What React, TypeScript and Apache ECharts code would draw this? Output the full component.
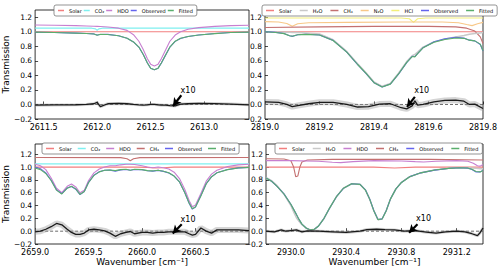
import React, { useEffect, useRef } from 'react';
import * as echarts from 'echarts';

// ---------- Panel 1 (HDO 2612.5) ----------
const p1Ticks = [2611.5, 2612.0, 2612.5, 2613.0];
const p1X = [2611.42, 2611.6, 2611.8, 2611.9, 2611.97, 2612.0, 2612.03, 2612.1, 2612.2, 2612.28, 2612.34, 2612.39, 2612.43, 2612.47, 2612.5, 2612.535, 2612.57, 2612.6, 2612.64, 2612.68, 2612.73, 2612.78, 2612.85, 2612.95, 2613.1, 2613.25, 2613.42];
const p1Fitted = [0.995, 0.99, 0.982, 0.976, 0.97, 0.952, 0.966, 0.963, 0.945, 0.91, 0.86, 0.79, 0.69, 0.57, 0.5, 0.478, 0.5, 0.57, 0.68, 0.79, 0.87, 0.91, 0.935, 0.955, 0.975, 0.99, 0.995];
const p1Observed = [0.994, 0.99, 0.982, 0.976, 0.971, 0.955, 0.963, 0.964, 0.946, 0.91, 0.86, 0.79, 0.69, 0.57, 0.5, 0.478, 0.5, 0.569, 0.679, 0.788, 0.868, 0.909, 0.935, 0.956, 0.976, 0.991, 0.994];
const p1HDO = [1.093, 1.09, 1.085, 1.08, 1.076, 1.074, 1.072, 1.066, 1.05, 1.02, 0.96, 0.87, 0.76, 0.63, 0.555, 0.53, 0.555, 0.63, 0.75, 0.87, 0.955, 1.0, 1.035, 1.058, 1.075, 1.085, 1.09];
const p1Residual = [-0.01, -0.006, -0.004, 0.0, 0.01, 0.03, -0.03, 0.01, 0.015, 0.01, 0.0, -0.005, -0.008, -0.005, 0.0, 0.0, -0.005, -0.01, -0.01, -0.015, -0.02, 0.005, 0.01, 0.015, 0.012, 0.005, -0.005];
const p1CO2X = [2611.42, 2611.95, 2611.985, 2612.0, 2612.015, 2612.05, 2613.42];
const p1CO2 = [1.05, 1.05, 1.04, 1.02, 1.04, 1.05, 1.05];
const p1SolarX = [2611.42, 2613.42];
const p1Solar = [1.0, 1.0];

// ---------- Panel 2 (2819) ----------
const p2Ticks = [2819.0, 2819.2, 2819.4, 2819.6, 2819.8];
const p2X = [2819.0, 2819.04, 2819.07, 2819.09, 2819.1, 2819.12, 2819.15, 2819.2, 2819.25, 2819.3, 2819.34, 2819.37, 2819.4, 2819.43, 2819.46, 2819.49, 2819.52, 2819.54, 2819.55, 2819.56, 2819.58, 2819.62, 2819.66, 2819.7, 2819.73, 2819.75, 2819.77, 2819.79, 2819.8];
const p2Fitted = [1.0, 0.99, 0.975, 0.945, 0.94, 0.96, 0.965, 0.955, 0.88, 0.72, 0.55, 0.43, 0.3, 0.24, 0.28, 0.42, 0.58, 0.66, 0.655, 0.7, 0.78, 0.855, 0.895, 0.915, 0.91, 0.885, 0.875, 0.83, 0.74];
const p2Observed = [1.003, 0.992, 0.977, 0.945, 0.937, 0.959, 0.967, 0.957, 0.882, 0.72, 0.548, 0.428, 0.3, 0.24, 0.281, 0.418, 0.575, 0.662, 0.66, 0.7, 0.782, 0.862, 0.905, 0.925, 0.915, 0.885, 0.875, 0.826, 0.735];
const p2H2O = [1.0, 0.998, 0.995, 0.993, 0.992, 0.99, 0.985, 0.97, 0.89, 0.73, 0.56, 0.44, 0.31, 0.25, 0.29, 0.43, 0.59, 0.67, 0.69, 0.72, 0.79, 0.86, 0.9, 0.93, 0.95, 0.965, 0.975, 0.985, 0.99];
const p2CH4X = [2819.0, 2819.2, 2819.4, 2819.6, 2819.7, 2819.74, 2819.77, 2819.79, 2819.8];
const p2CH4 = [1.06, 1.068, 1.075, 1.075, 1.068, 1.05, 1.01, 0.93, 0.84];
const p2N2OX = [2819.0, 2819.05, 2819.08, 2819.1, 2819.12, 2819.16, 2819.3, 2819.5, 2819.65, 2819.71, 2819.74, 2819.76, 2819.78, 2819.8];
const p2N2O = [1.14, 1.135, 1.115, 1.075, 1.11, 1.125, 1.13, 1.135, 1.135, 1.125, 1.1, 1.085, 1.11, 1.13];
const p2HClX = [2819.0, 2819.5, 2819.53, 2819.545, 2819.56, 2819.59, 2819.8];
const p2HCl = [1.19, 1.19, 1.18, 1.13, 1.18, 1.19, 1.19];
const p2SolarX = [2819.0, 2819.8];
const p2Solar = [1.0, 1.0];
const p2ResX = [2819.0, 2819.05, 2819.08, 2819.1, 2819.12, 2819.16, 2819.2, 2819.25, 2819.3, 2819.34, 2819.38, 2819.42, 2819.46, 2819.5, 2819.52, 2819.54, 2819.55, 2819.56, 2819.58, 2819.62, 2819.66, 2819.7, 2819.73, 2819.75, 2819.77, 2819.8];
const p2Residual = [0.035, 0.03, 0.0, -0.03, -0.015, 0.01, 0.03, 0.03, 0.0, -0.035, -0.03, 0.005, 0.01, -0.045, -0.06, -0.02, 0.05, -0.01, 0.0, 0.035, 0.055, 0.06, 0.045, 0.0, 0.005, -0.055];

// ---------- Panel 3 (2659-2661) ----------
const p3Ticks = [2659.0, 2659.5, 2660.0, 2660.5];
const p3X = [2659.0, 2659.05, 2659.1, 2659.15, 2659.2, 2659.25, 2659.3, 2659.34, 2659.38, 2659.42, 2659.46, 2659.5, 2659.55, 2659.6, 2659.65, 2659.7, 2659.75, 2659.8, 2659.85, 2659.89, 2659.93, 2660.0, 2660.05, 2660.1, 2660.15, 2660.2, 2660.25, 2660.3, 2660.35, 2660.4, 2660.44, 2660.47, 2660.5, 2660.55, 2660.6, 2660.65, 2660.7, 2660.8, 2660.9, 2661.0];
const p3Fitted = [0.985, 0.96, 0.9, 0.79, 0.64, 0.58, 0.67, 0.7, 0.66, 0.575, 0.62, 0.76, 0.87, 0.925, 0.95, 0.955, 0.945, 0.96, 0.965, 0.95, 0.965, 0.96, 0.945, 0.94, 0.95, 0.935, 0.91, 0.86, 0.77, 0.6, 0.44, 0.35, 0.38, 0.55, 0.74, 0.85, 0.91, 0.96, 0.985, 0.995];
const p3Observed = [1.0, 0.975, 0.91, 0.795, 0.645, 0.585, 0.672, 0.698, 0.655, 0.57, 0.617, 0.762, 0.873, 0.927, 0.95, 0.952, 0.937, 0.956, 0.963, 0.95, 0.961, 0.958, 0.943, 0.937, 0.948, 0.933, 0.909, 0.859, 0.769, 0.599, 0.436, 0.344, 0.375, 0.555, 0.74, 0.847, 0.912, 0.962, 0.987, 0.996];
const p3HDO = [1.045, 1.02, 0.96, 0.83, 0.67, 0.6, 0.7, 0.735, 0.69, 0.6, 0.64, 0.79, 0.91, 0.97, 1.0, 1.02, 1.02, 1.035, 1.045, 1.045, 1.04, 1.02, 1.0, 0.99, 1.0, 0.99, 0.97, 0.92, 0.82, 0.65, 0.48, 0.38, 0.41, 0.59, 0.78, 0.89, 0.95, 1.01, 1.035, 1.045];
const p3Residual = [-0.01, 0.0, 0.03, 0.07, 0.12, 0.1, 0.03, -0.02, -0.05, -0.05, -0.03, 0.02, 0.03, 0.02, 0.005, -0.03, -0.08, -0.04, -0.02, -0.005, -0.04, -0.02, -0.02, -0.03, -0.02, -0.02, -0.01, -0.01, -0.01, -0.01, -0.04, -0.06, -0.05, 0.05, 0.0, -0.03, 0.02, 0.02, 0.02, 0.01];
const p3CO2X = [2659.0, 2661.0];
const p3CO2 = [1.05, 1.05];
const p3SolarX = [2659.0, 2659.95, 2660.05, 2660.12, 2660.2, 2660.3, 2661.0];
const p3Solar = [1.0, 1.0, 0.995, 0.985, 0.99, 1.0, 1.0];
const p3CH4X = [2659.0, 2659.8, 2659.86, 2659.89, 2659.92, 2659.98, 2661.0];
const p3CH4 = [1.15, 1.148, 1.13, 1.1, 1.13, 1.148, 1.15];

// ---------- Panel 4 (2930-2931) ----------
const p4Ticks = [2930.0, 2930.4, 2930.8, 2931.2];
const p4X = [2929.82, 2929.86, 2929.9, 2929.95, 2930.0, 2930.02, 2930.04, 2930.06, 2930.08, 2930.11, 2930.14, 2930.17, 2930.2, 2930.24, 2930.28, 2930.33, 2930.38, 2930.44, 2930.5, 2930.54, 2930.57, 2930.6, 2930.63, 2930.66, 2930.69, 2930.72, 2930.76, 2930.8, 2930.86, 2930.94, 2931.04, 2931.14, 2931.22, 2931.28, 2931.31, 2931.34, 2931.37, 2931.39];
const p4Fitted = [0.83, 0.78, 0.7, 0.58, 0.42, 0.34, 0.26, 0.18, 0.11, 0.05, 0.02, 0.03, 0.08, 0.2, 0.36, 0.54, 0.67, 0.74, 0.73, 0.64, 0.5, 0.32, 0.18, 0.19, 0.32, 0.5, 0.66, 0.76, 0.85, 0.91, 0.955, 0.98, 0.99, 0.985, 0.965, 0.93, 0.925, 0.945];
const p4Observed = [0.832, 0.779, 0.7, 0.582, 0.42, 0.342, 0.262, 0.18, 0.11, 0.05, 0.02, 0.03, 0.08, 0.2, 0.359, 0.538, 0.668, 0.739, 0.731, 0.643, 0.503, 0.323, 0.182, 0.192, 0.323, 0.501, 0.66, 0.76, 0.851, 0.91, 0.953, 0.979, 0.99, 0.983, 0.962, 0.924, 0.925, 0.95];
const p4H2O = [0.84, 0.79, 0.71, 0.58, 0.4, 0.3, 0.21, 0.15, 0.1, 0.05, 0.02, 0.03, 0.08, 0.2, 0.36, 0.54, 0.67, 0.74, 0.73, 0.64, 0.5, 0.32, 0.18, 0.19, 0.32, 0.5, 0.66, 0.76, 0.85, 0.91, 0.955, 0.98, 0.99, 0.99, 0.985, 0.98, 0.975, 0.975];
const p4HDOX = [2929.82, 2930.0, 2930.2, 2930.3, 2930.36, 2930.45, 2930.6, 2930.8, 2930.9, 2930.96, 2931.05, 2931.2, 2931.28, 2931.32, 2931.35, 2931.37, 2931.39];
const p4HDO = [1.1, 1.1, 1.09, 1.075, 1.07, 1.085, 1.1, 1.095, 1.085, 1.08, 1.09, 1.1, 1.09, 1.06, 1.02, 1.015, 1.04];
const p4CH4X = [2929.82, 2929.95, 2930.0, 2930.02, 2930.035, 2930.05, 2930.065, 2930.08, 2930.12, 2930.3, 2931.0, 2931.39];
const p4CH4 = [1.13, 1.125, 1.1, 1.0, 0.85, 0.86, 1.0, 1.08, 1.11, 1.12, 1.12, 1.11];
const p4SolarX = [2929.82, 2930.6, 2930.75, 2930.9, 2931.39];
const p4Solar = [1.0, 1.0, 0.985, 1.0, 1.0];
const p4ResX = [2929.82, 2929.88, 2929.93, 2929.96, 2930.0, 2930.04, 2930.08, 2930.12, 2930.2, 2930.3, 2930.4, 2930.5, 2930.55, 2930.62, 2930.68, 2930.75, 2930.82, 2930.9, 2930.98, 2931.05, 2931.12, 2931.2, 2931.26, 2931.31, 2931.35, 2931.37, 2931.39];
const p4Residual = [0.0, -0.01, 0.02, 0.0, 0.01, 0.02, -0.01, 0.005, 0.0, -0.01, -0.02, 0.0, 0.025, 0.03, 0.025, 0.02, 0.0, 0.01, -0.015, -0.03, -0.01, 0.0, -0.01, -0.04, -0.07, -0.02, 0.05];

// arrows: [tailX, tailY, tipX, tipY, textX, textY]
const arrow1 = [2612.787, 0.127, 2612.709, -0.023, 2612.85, 0.196];
const arrow2 = [2819.55, 0.104, 2819.521, -0.033, 2819.575, 0.196];
const arrow3 = [2660.371, 0.107, 2660.287, -0.037, 2660.43, 0.187];
const arrow4 = [2930.916, 0.107, 2930.855, -0.026, 2930.96, 0.2];

const COL = {
  solar: '#f27f7f', co2: '#7ff0f0', hdo: '#c77fd0', obs: '#6464ee', fit: '#5aae6c',
  h2o: '#c9c9c9', ch4: '#c47070', n2o: '#f8c888', hcl: '#f3ef7a',
};
const FONT = 'DejaVu Sans';

const pairs = (xs: number[], ys: number[]) => xs.map((x, i) => [x, ys[i]]);

export default function App() {
  const ref = useRef<HTMLDivElement>(null);
  useEffect(() => {
    if (!ref.current) return;
    const chart = echarts.init(ref.current, null, { renderer: 'svg' });

    const grids = [
      { left: 35, top: 10, width: 214, height: 109 },
      { left: 265, top: 10, width: 218, height: 109 },
      { left: 35, top: 144, width: 214, height: 100 },
      { left: 266, top: 144, width: 217, height: 100 },
    ];
    const xr = [[2611.42, 2613.42], [2819.0, 2819.8], [2659.0, 2661.0], [2929.82, 2931.39]];
    const yMax = [1.3, 1.3, 1.36, 1.36];
    const ticks = [p1Ticks, p2Ticks, p3Ticks, p4Ticks];

    const series: any[] = [];
    const addLine = (i: number, name: string, xs: number[], ys: number[], color: string, width = 1.1) => {
      series.push({
        type: 'line', name, xAxisIndex: i, yAxisIndex: i, data: pairs(xs, ys),
        symbol: 'none', showSymbol: false, silent: true,
        lineStyle: { color, width }, itemStyle: { color },
      });
    };
    const addResidual = (i: number, xs: number[], ys: number[], band: number, ar: number[]) => {
      series.push({
        type: 'line', xAxisIndex: i, yAxisIndex: i, data: [[xr[i][0], 0], [xr[i][1], 0]],
        symbol: 'none', silent: true, lineStyle: { color: '#444', width: 0.8, type: [3, 2] },
      });
      series.push({
        type: 'line', xAxisIndex: i, yAxisIndex: i, data: pairs(xs, ys),
        symbol: 'none', silent: true, lineStyle: { color: 'rgba(150,150,150,0.4)', width: band },
      });
      series.push({
        type: 'line', xAxisIndex: i, yAxisIndex: i, data: pairs(xs, ys),
        symbol: 'none', silent: true, lineStyle: { color: '#1a1a1a', width: 1.3 },
        markLine: {
          silent: true, symbol: ['none', 'arrow'], symbolSize: [7, 8],
          lineStyle: { color: '#000', width: 2.2, type: 'solid' }, label: { show: false },
          data: [[{ coord: [ar[0], ar[1]] }, { coord: [ar[2], ar[3]] }]],
        },
        markPoint: {
          silent: true, symbol: 'circle', symbolSize: 1, itemStyle: { color: 'rgba(0,0,0,0)' },
          label: { show: true, formatter: 'x10', color: '#000', fontSize: 8, fontFamily: FONT, position: 'inside' },
          data: [{ coord: [ar[4], ar[5]] }],
        },
      });
    };

    // Panel 1
    addLine(0, 'Solar', p1SolarX, p1Solar, COL.solar);
    addLine(0, 'CO₂', p1CO2X, p1CO2, COL.co2);
    addLine(0, 'HDO', p1X, p1HDO, COL.hdo);
    addLine(0, 'Observed', p1X, p1Observed, COL.obs);
    addLine(0, 'Fitted', p1X, p1Fitted, COL.fit);
    addResidual(0, p1X, p1Residual, 3, arrow1);
    // Panel 2
    addLine(1, 'Solar', p2SolarX, p2Solar, COL.solar);
    addLine(1, 'HCl', p2HClX, p2HCl, COL.hcl);
    addLine(1, 'N₂O', p2N2OX, p2N2O, COL.n2o);
    addLine(1, 'CH₄', p2CH4X, p2CH4, COL.ch4);
    addLine(1, 'H₂O', p2X, p2H2O, COL.h2o, 1.5);
    addLine(1, 'Observed', p2X, p2Observed, COL.obs);
    addLine(1, 'Fitted', p2X, p2Fitted, COL.fit);
    addResidual(1, p2ResX, p2Residual, 6, arrow2);
    // Panel 3
    addLine(2, 'Solar', p3SolarX, p3Solar, COL.solar);
    addLine(2, 'CO₂', p3CO2X, p3CO2, COL.co2);
    addLine(2, 'CH₄', p3CH4X, p3CH4, COL.ch4);
    addLine(2, 'HDO', p3X, p3HDO, COL.hdo);
    addLine(2, 'Observed', p3X, p3Observed, COL.obs);
    addLine(2, 'Fitted', p3X, p3Fitted, COL.fit);
    addResidual(2, p3X, p3Residual, 6, arrow3);
    // Panel 4
    addLine(3, 'Solar', p4SolarX, p4Solar, COL.solar);
    addLine(3, 'CH₄', p4CH4X, p4CH4, COL.ch4);
    addLine(3, 'HDO', p4HDOX, p4HDO, COL.hdo);
    addLine(3, 'H₂O', p4X, p4H2O, COL.h2o, 1.5);
    addLine(3, 'Observed', p4X, p4Observed, COL.obs);
    addLine(3, 'Fitted', p4X, p4Fitted, COL.fit);
    addResidual(3, p4ResX, p4Residual, 3, arrow4);

    const fmt = (v: number) => (v < 0 ? '−' + Math.abs(v).toFixed(1) : v.toFixed(1));

    const xAxis = grids.map((_, i) => ({
      type: 'value', gridIndex: i, min: xr[i][0], max: xr[i][1],
      axisLine: { show: false },
      axisTick: { show: true, inside: true, length: 3, customValues: ticks[i], lineStyle: { color: '#000', width: 0.7 } },
      axisLabel: { customValues: ticks[i], formatter: fmt, fontSize: 8, color: '#000', fontFamily: FONT, margin: 4 },
      splitLine: { show: false },
      name: i >= 2 ? 'Wavenumber [cm⁻¹]' : '',
      nameLocation: 'middle', nameGap: 13,
      nameTextStyle: { fontSize: 9, color: '#000', fontFamily: FONT },
    }));
    const yAxis = grids.map((_, i) => ({
      type: 'value', gridIndex: i, min: -0.2, max: yMax[i], interval: 0.2,
      axisLine: { show: false },
      axisTick: { show: true, inside: true, length: 3, lineStyle: { color: '#000', width: 0.7 } },
      axisLabel: { formatter: fmt, fontSize: 7.5, color: '#000', fontFamily: FONT, margin: 3, showMaxLabel: false },
      splitLine: { show: false },
      name: i % 2 === 0 ? 'Transmission' : '',
      nameLocation: 'middle', nameGap: 17,
      nameTextStyle: { fontSize: 9, color: '#000', fontFamily: FONT },
    }));

    const legendBase = {
      orient: 'horizontal', icon: 'rect', itemWidth: 8, itemHeight: 1.5, padding: [3, 4],
      backgroundColor: '#fff', borderColor: '#666', borderWidth: 0.7, borderRadius: 2,
      textStyle: { fontSize: 5, color: '#000', fontFamily: FONT },
      selectedMode: false, z: 10,
    };

    chart.setOption({
      animation: false,
      textStyle: { fontFamily: FONT },
      grid: grids.map(g => ({ ...g, show: true, borderColor: '#000', borderWidth: 0.8, backgroundColor: 'transparent' })),
      xAxis, yAxis,
      legend: [
        { ...legendBase, itemGap: 2, itemWidth: 6, left: 54, top: 5, data: ['Solar', 'CO₂', 'HDO', 'Observed', 'Fitted'] },
        { ...legendBase, itemGap: 8, left: 262, top: 5, data: ['Solar', 'H₂O', 'CH₄', 'N₂O', 'HCl', 'Observed', 'Fitted'] },
        { ...legendBase, itemGap: 6, left: 42, top: 143, data: ['Solar', 'CO₂', 'HDO', 'CH₄', 'Observed', 'Fitted'] },
        { ...legendBase, itemGap: 8, left: 275, top: 143, data: ['Solar', 'H₂O', 'HDO', 'CH₄', 'Observed', 'Fitted'] },
      ],
      series,
    });
    return () => chart.dispose();
  }, []);
  return <div ref={ref} style={{ position: 'absolute', left: 0, top: 0, width: 500, height: 269 }} />;
}
